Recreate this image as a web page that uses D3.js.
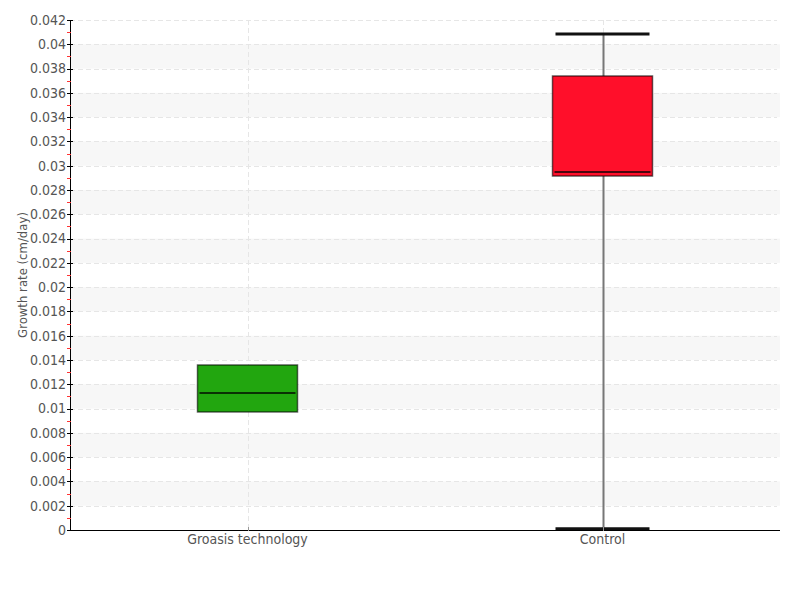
<!DOCTYPE html>
<html>
<head>
<meta charset="utf-8">
<script src="https://cdn.jsdelivr.net/npm/d3@7"></script>
<style>
  body { margin: 0; background: #fff; }
  svg text { font-family: "DejaVu Sans", sans-serif; font-stretch: condensed; fill: #555; }
</style>
</head>
<body>
<script>
const W = 800, H = 600;
const margin = { top: 20, right: 20, bottom: 70, left: 70 };

// data
const categories = ['Groasis technology', 'Control'];
const lowWhisker = [0.00972, 0.0001];
const q1 = [0.00972, 0.02915];
const median = [0.01128, 0.02948];
const q3 = [0.01359, 0.03739];
const highWhisker = [0.01359, 0.04085];
const colors = ['#22a60f', '#ff0f2a'];
const yTicks = d3.range(0, 0.0421, 0.002);
const yMinorTicks = d3.range(0.001, 0.042, 0.002);

const svg = d3.select('body').append('svg')
    .attr('width', W)
    .attr('height', H);

const x = d3.scalePoint()
    .domain(categories)
    .range([margin.left, W - margin.right])
    .padding(0.5);

const y = d3.scaleLinear()
    .domain([0, 0.042])
    .range([H - margin.bottom, margin.top]);

const plotL = margin.left, plotR = W - margin.right;

// alternating bands
svg.append('g').selectAll('rect')
    .data(yTicks.filter((d, i) => i % 2 === 1 && i < yTicks.length - 1))
    .join('rect')
    .attr('x', plotL)
    .attr('width', plotR - plotL)
    .attr('y', d => y(d + 0.002))
    .attr('height', d => y(d) - y(d + 0.002))
    .attr('fill', '#f7f7f7');

// horizontal grid
svg.append('g').selectAll('line')
    .data(yTicks.slice(1))
    .join('line')
    .attr('x1', plotL)
    .attr('x2', plotR - 3)
    .attr('y1', d => Math.round(y(d)) + 0.5)
    .attr('y2', d => Math.round(y(d)) + 0.5)
    .attr('stroke', '#e6e6e6')
    .attr('stroke-dasharray', '5,3');

// vertical grid
svg.append('g').selectAll('line')
    .data(categories)
    .join('line')
    .attr('x1', d => Math.round(x(d)) + 0.5)
    .attr('x2', d => Math.round(x(d)) + 0.5)
    .attr('y1', margin.top)
    .attr('y2', H - margin.bottom)
    .attr('stroke', '#e6e6e6')
    .attr('stroke-dasharray', '5,3');

// boxes
const boxW = 100, capW = 94;
const boxes = svg.append('g').selectAll('g')
    .data(categories.map((c, i) => ({ c, i })))
    .join('g');

boxes.append('line')
    .attr('x1', d => Math.round(x(d.c)) + 0.5)
    .attr('x2', d => Math.round(x(d.c)) + 0.5)
    .attr('y1', d => y(lowWhisker[d.i]))
    .attr('y2', d => y(highWhisker[d.i]))
    .attr('stroke', '#777')
    .attr('stroke-width', 2);

// caps only where the whisker sticks out of the box
boxes.selectAll('.cap')
    .data(d => [[lowWhisker[d.i], q1[d.i]], [highWhisker[d.i], q3[d.i]]]
        .filter(p => p[0] !== p[1])
        .map(p => ({ v: p[0], c: d.c })))
    .join('line')
    .attr('class', 'cap')
    .attr('x1', d => x(d.c) - capW / 2)
    .attr('x2', d => x(d.c) + capW / 2)
    .attr('y1', d => y(d.v))
    .attr('y2', d => y(d.v))
    .attr('stroke', '#111')
    .attr('stroke-width', 3);

boxes.append('rect')
    .attr('x', d => x(d.c) - boxW / 2)
    .attr('width', boxW)
    .attr('y', d => y(q3[d.i]))
    .attr('height', d => y(q1[d.i]) - y(q3[d.i]))
    .attr('fill', d => colors[d.i])
    .attr('stroke', 'rgba(0,0,0,0.6)')
    .attr('stroke-width', 1.5);

boxes.append('line')
    .attr('x1', d => x(d.c) - boxW / 2 + 2)
    .attr('x2', d => x(d.c) + boxW / 2 - 2)
    .attr('y1', d => y(median[d.i]))
    .attr('y2', d => y(median[d.i]))
    .attr('stroke', 'rgba(0,0,0,0.7)')
    .attr('stroke-width', 2);

// y axis
const yAxis = svg.append('g')
    .attr('transform', `translate(${plotL},0)`);
yAxis.append('line')
    .attr('x1', 0.5).attr('x2', 0.5)
    .attr('y1', margin.top).attr('y2', H - margin.bottom)
    .attr('stroke', '#000');
yAxis.selectAll('.minor')
    .data(yMinorTicks)
    .join('line')
    .attr('class', 'minor')
    .attr('x1', -3).attr('x2', 1)
    .attr('y1', d => Math.round(y(d)) + 0.5)
    .attr('y2', d => Math.round(y(d)) + 0.5)
    .attr('stroke', '#f33');
yAxis.selectAll('.major')
    .data(yTicks)
    .join('line')
    .attr('class', 'major')
    .attr('x1', -3).attr('x2', 3)
    .attr('y1', d => Math.round(y(d)) + 0.5)
    .attr('y2', d => Math.round(y(d)) + 0.5)
    .attr('stroke', '#000');
yAxis.selectAll('text')
    .data(yTicks)
    .join('text')
    .attr('x', -4)
    .attr('y', d => y(d))
    .attr('dy', '0.35em')
    .attr('text-anchor', 'end')
    .attr('font-size', 14)
    .text(d => d === 0 ? '0' : d3.format('.3~f')(d));

// x axis
const xAxis = svg.append('g');
xAxis.append('line')
    .attr('x1', plotL).attr('x2', plotR)
    .attr('y1', H - margin.bottom + 0.5).attr('y2', H - margin.bottom + 0.5)
    .attr('stroke', '#000');
xAxis.selectAll('.tick')
    .data(categories)
    .join('line')
    .attr('class', 'tick')
    .attr('x1', d => Math.round(x(d)) + 0.5)
    .attr('x2', d => Math.round(x(d)) + 0.5)
    .attr('y1', H - margin.bottom - 3)
    .attr('y2', H - margin.bottom + 1)
    .attr('stroke', '#999');
xAxis.selectAll('text')
    .data(categories)
    .join('text')
    .attr('x', d => x(d))
    .attr('y', H - margin.bottom + 14)
    .attr('text-anchor', 'middle')
    .attr('font-size', 14)
    .text(d => d);

// y label
svg.append('text')
    .attr('transform', `translate(27,${(margin.top + H - margin.bottom) / 2}) rotate(-90)`)
    .attr('text-anchor', 'middle')
    .attr('font-size', 13)
    .text('Growth rate (cm/day)');
</script>
</body>
</html>
